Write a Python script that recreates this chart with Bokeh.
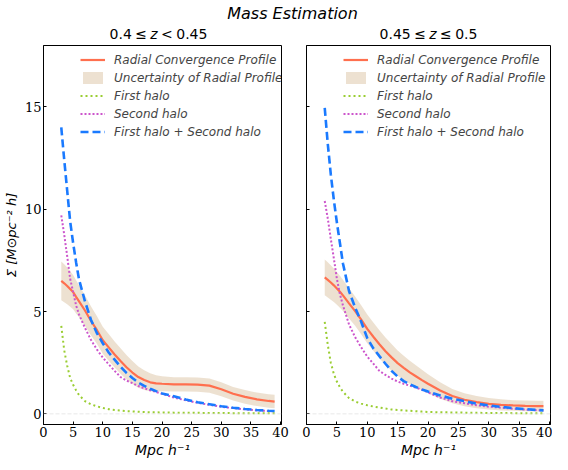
from bokeh.plotting import figure
from bokeh.models import Range1d, FixedTicker, Span, Legend, LegendItem, Label
from bokeh.layouts import column, row
from bokeh.embed import file_html
from bokeh.resources import INLINE

# ---------------- data ----------------
r = [3, 3.5, 4, 4.5, 5, 5.5, 6, 7, 8, 9, 10, 11, 12, 13, 14, 15, 16, 17, 18, 19, 20,
     22, 24, 26, 28, 30, 32, 34, 36, 38, 39]

# left panel: 0.4 <= z < 0.45
radial_left = [6.5, 6.38, 6.25, 6.1, 5.95, 5.72, 5.5, 5.05, 4.55, 4.1, 3.6, 3.25, 2.9, 2.58, 2.28,
               2.02, 1.8, 1.65, 1.54, 1.49, 1.47, 1.44, 1.44, 1.43, 1.38, 1.2, 0.98, 0.83, 0.71, 0.63, 0.6]
upper_left = [7.45, 7.31, 7.15, 6.97, 6.79, 6.53, 6.28, 5.79, 5.26, 4.78, 4.26, 3.9, 3.54, 3.2, 2.88,
              2.58, 2.32, 2.13, 1.98, 1.89, 1.84, 1.79, 1.79, 1.78, 1.73, 1.55, 1.31, 1.16, 1.04, 0.96, 0.93]
lower_left = [5.55, 5.45, 5.35, 5.23, 5.11, 4.91, 4.72, 4.31, 3.84, 3.42, 2.94, 2.6, 2.26, 1.96, 1.68,
              1.46, 1.28, 1.17, 1.1, 1.09, 1.1, 1.09, 1.09, 1.08, 1.03, 0.86, 0.65, 0.5, 0.38, 0.3, 0.27]
first_left = [4.3, 3.1, 2.35, 1.75, 1.42, 1.15, 0.92, 0.62, 0.47, 0.37, 0.29, 0.23, 0.19, 0.16, 0.13,
              0.12, 0.1, 0.09, 0.08, 0.075, 0.07, 0.06, 0.055, 0.05, 0.045, 0.04, 0.035, 0.03, 0.03, 0.025, 0.025]
second_left = [9.7, 8.75, 7.7, 6.6, 5.95, 5.3, 4.85, 4.2, 3.62, 3.15, 2.75, 2.42, 2.1, 1.8, 1.63,
               1.5, 1.36, 1.25, 1.15, 1.07, 0.98, 0.8, 0.66, 0.54, 0.44, 0.35, 0.28, 0.22, 0.17, 0.14, 0.13]
total_left = [14.0, 12.4, 10.9, 9.4, 8.35, 7.4, 6.56, 5.5, 4.6, 3.95, 3.45, 3.0, 2.65, 2.3, 2.0,
              1.75, 1.53, 1.37, 1.23, 1.11, 1.0, 0.86, 0.7, 0.57, 0.47, 0.37, 0.3, 0.24, 0.19, 0.15, 0.14]

# right panel: 0.45 <= z <= 0.5
radial_right = [6.67, 6.55, 6.42, 6.28, 6.13, 5.97, 5.79, 5.4, 5.02, 4.6, 4.15, 3.77, 3.4, 3.06, 2.76,
                2.48, 2.25, 2.03, 1.84, 1.65, 1.47, 1.14, 0.87, 0.69, 0.57, 0.49, 0.44, 0.41, 0.39, 0.38, 0.38]
upper_right = [7.54, 7.41, 7.26, 7.1, 6.93, 6.75, 6.55, 6.14, 5.74, 5.31, 4.85, 4.46, 4.08, 3.73, 3.41,
               3.1, 2.84, 2.59, 2.37, 2.15, 1.93, 1.54, 1.22, 1.01, 0.87, 0.77, 0.71, 0.67, 0.65, 0.64, 0.64]
lower_right = [5.8, 5.69, 5.58, 5.46, 5.33, 5.19, 5.03, 4.66, 4.3, 3.89, 3.45, 3.08, 2.72, 2.39, 2.11,
               1.86, 1.66, 1.47, 1.31, 1.15, 1.01, 0.74, 0.52, 0.37, 0.27, 0.21, 0.17, 0.15, 0.13, 0.12, 0.12]
first_right = [4.49, 3.38, 2.5, 1.95, 1.58, 1.3, 1.08, 0.77, 0.6, 0.5, 0.42, 0.36, 0.31, 0.26, 0.21,
               0.19, 0.17, 0.15, 0.13, 0.11, 0.09, 0.08, 0.07, 0.06, 0.05, 0.045, 0.04, 0.035, 0.03, 0.03, 0.03]
second_right = [10.4, 9.55, 8.55, 7.6, 6.6, 5.85, 5.3, 4.37, 3.75, 3.25, 2.8, 2.45, 2.1, 1.9, 1.72,
                1.58, 1.47, 1.38, 1.28, 1.18, 1.05, 0.8, 0.62, 0.52, 0.42, 0.35, 0.3, 0.25, 0.21, 0.18, 0.17]
total_right = [14.95, 13.2, 11.7, 10.45, 9.35, 8.35, 7.35, 6.0, 5.2, 4.5, 3.7, 3.2, 2.82, 2.45, 2.1,
               1.82, 1.6, 1.45, 1.31, 1.19, 1.09, 0.9, 0.74, 0.62, 0.5, 0.41, 0.34, 0.28, 0.23, 0.19, 0.17]

x_ticks = [0, 5, 10, 15, 20, 25, 30, 35, 40]
y_ticks = [0, 5, 10, 15]

legend_labels = ["Radial Convergence Profile", "Uncertainty of Radial Profile",
                 "First halo", "Second halo", "First halo + Second halo"]

title_text = "Mass Estimation"
subtitle_left = [("0.4", False), ("≤", False), ("z", True), ("<", False), ("0.45", False)]
subtitle_right = [("0.45", False), ("≤", False), ("z", True), ("≤", False), ("0.5", False)]
x_label = "Mpc h⁻¹"
y_label = "Σ [M⊙pc⁻² h]"

# ---------------- styling ----------------
C_RADIAL = "#ff6f4e"
C_BAND = "tan"
C_FIRST = "yellowgreen"
C_SECOND = "#cc55cc"
C_TOTAL = "#1a7aff"

TOTAL_W = 552
TITLE_H = 44
PANEL_H = 418
TOP = 1
BOTTOM = 38


def make_panel(radial, upper, lower, first, second, total, width, bl, br, show_y):
    p = figure(width=width, height=PANEL_H,
               x_range=Range1d(0, 40.16), y_range=Range1d(-0.52, 18.0),
               output_backend="svg", toolbar_location=None,
               min_border_left=bl, min_border_right=br,
               min_border_top=TOP, min_border_bottom=BOTTOM)
    p.xgrid.visible = False
    p.ygrid.visible = False
    p.outline_line_color = "black"
    p.outline_line_width = 1
    p.outline_line_alpha = 1
    p.background_fill_color = "white"
    p.border_fill_alpha = 0

    p.add_layout(Span(location=0, dimension="width", line_color="#d8d8d8",
                      line_alpha=0.6, line_width=1, line_dash="4 2"))

    band = p.varea(x=r, y1=lower, y2=upper, fill_color=C_BAND, fill_alpha=0.4)
    rad = p.line(r, radial, line_color=C_RADIAL, line_width=2.2)
    fst = p.line(r, first, line_color=C_FIRST, line_width=2, line_dash="2 3")
    snd = p.line(r, second, line_color=C_SECOND, line_width=2, line_dash="2 2")
    tot = p.line(r, total, line_color=C_TOTAL, line_width=2.6, line_dash="8 4")

    frame_h = PANEL_H - TOP - BOTTOM
    items = [LegendItem(label=lab, renderers=[rend])
             for lab, rend in zip(legend_labels, [rad, band, fst, snd, tot])]
    leg = Legend(items=items, location=(37, frame_h - 7 - 87), border_line_color=None,
                 background_fill_alpha=0, label_text_font="DejaVu Sans",
                 label_text_font_style="italic", label_text_font_size="12px",
                 glyph_width=25, glyph_height=15, label_height=15, spacing=3,
                 padding=0, margin=0, label_standoff=9)
    p.add_layout(leg)

    for ax in [p.xaxis[0], p.yaxis[0]]:
        ax.major_tick_in = 3
        ax.major_tick_out = 0
        ax.minor_tick_in = 0
        ax.minor_tick_out = 0
        ax.axis_line_color = "black"
        ax.major_tick_line_color = "black"
        ax.major_label_text_font = "DejaVu Serif"
        ax.major_label_text_font_size = "13px"
        ax.major_label_text_color = "black"
        ax.major_label_standoff = 2
        ax.axis_label_text_font = "DejaVu Sans"
        ax.axis_label_text_font_style = "italic"
        ax.axis_label_text_font_size = "14px"
        ax.axis_label_text_color = "black"
    p.xaxis.ticker = FixedTicker(ticks=x_ticks)
    p.yaxis.ticker = FixedTicker(ticks=y_ticks)
    p.xaxis.axis_label = x_label
    p.xaxis.axis_label_standoff = 2
    if show_y:
        p.yaxis.axis_label = y_label
        p.yaxis.axis_label_standoff = 3
        p.yaxis.axis_label_text_font_size = "13px"
    else:
        p.yaxis.major_label_overrides = {t: "" for t in y_ticks}
    return p


p1 = make_panel(radial_left, upper_left, lower_left, first_left, second_left, total_left,
                width=293, bl=35, br=12, show_y=True)
p2 = make_panel(radial_right, upper_right, lower_right, first_right, second_right, total_right,
                width=259, bl=13, br=2, show_y=False)

# ---------------- title strip ----------------
t = figure(width=TOTAL_W, height=TITLE_H, x_range=Range1d(0, TOTAL_W), y_range=Range1d(0, TITLE_H),
           x_axis_type=None, y_axis_type=None, output_backend="svg", toolbar_location=None,
           min_border=0, outline_line_color=None)
t.xgrid.visible = False
t.ygrid.visible = False
t.background_fill_alpha = 0
t.border_fill_alpha = 0
t.add_layout(Label(x=292, y=31, text=title_text, text_font="DejaVu Sans",
                   text_font_style="italic", text_font_size="16px", text_align="center",
                   text_baseline="alphabetic", text_color="black"))

ADV = {"0": 0.636, ".": 0.318, "4": 0.636, "5": 0.636, "≤": 0.838, "<": 0.838, "z": 0.525}
SUB_SIZE = 14
GAP = 3.4


def place(fig, cx, y, parts):
    widths = [sum(ADV[c] for c in s) * SUB_SIZE for s, _ in parts]
    total = sum(widths) + GAP * (len(parts) - 1)
    x0 = cx - total / 2
    for (s, it), w in zip(parts, widths):
        fig.add_layout(Label(x=x0, y=y, text=s, text_font="DejaVu Sans",
                             text_font_style="italic" if it else "normal",
                             text_font_size=f"{SUB_SIZE}px", text_align="left",
                             text_baseline="alphabetic", text_color="black"))
        x0 += w + GAP


place(t, 158, 11, subtitle_left)
place(t, 428, 11, subtitle_right)

layout = column(t, row(p1, p2))
open("out.html", "w").write(file_html(layout, INLINE))
